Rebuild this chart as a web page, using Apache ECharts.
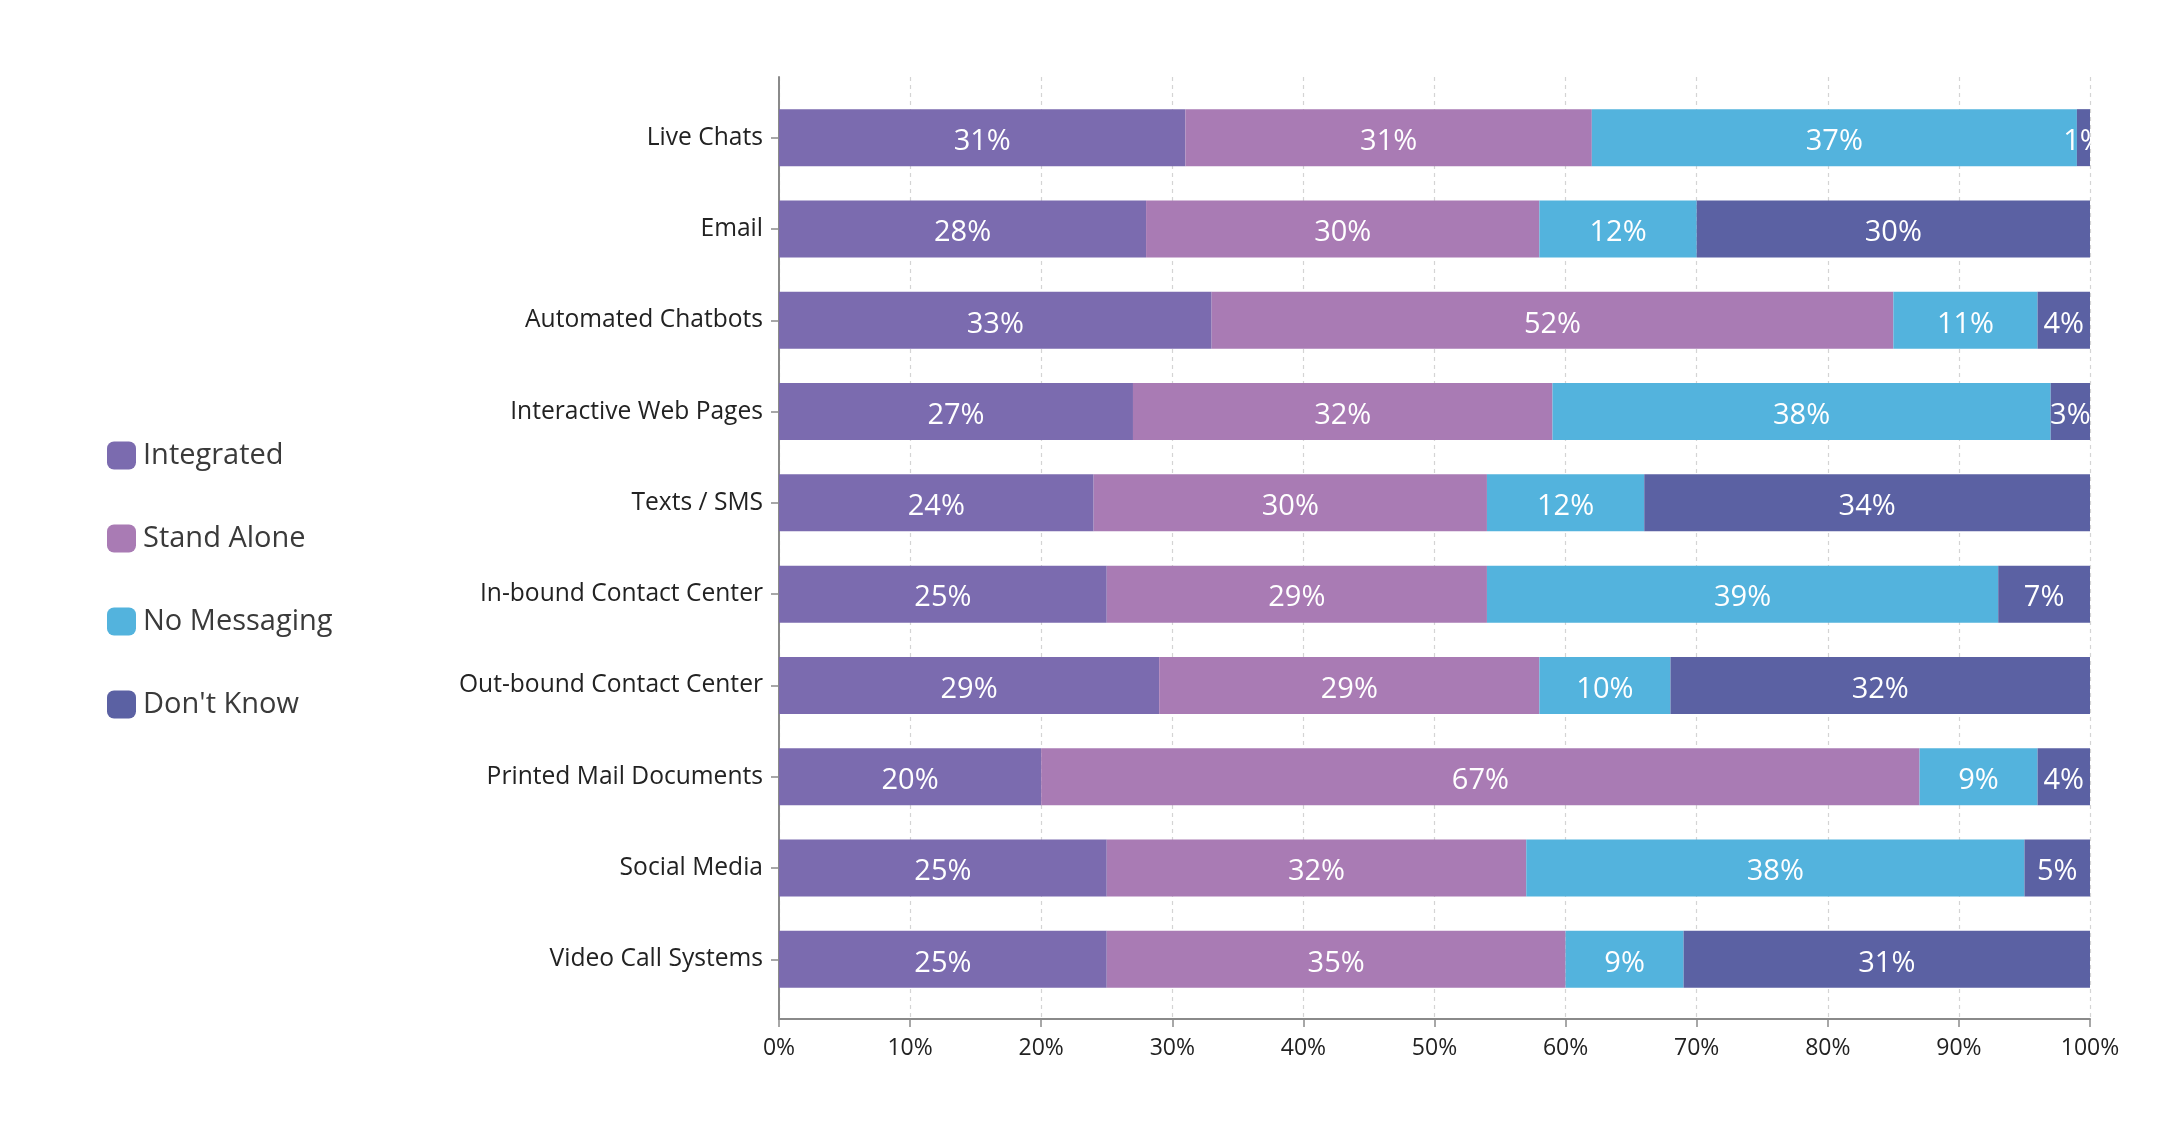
<!DOCTYPE html>
<html>
<head>
<meta charset="utf-8">
<script src="https://cdn.jsdelivr.net/npm/echarts@6/dist/echarts.min.js"></script>
<style>
html,body{margin:0;padding:0;background:#fff;}
#chart{width:2181px;height:1148px;}
</style>
</head>
<body>
<div id="chart"></div>
<script>
const categories = ["Live Chats","Email","Automated Chatbots","Interactive Web Pages","Texts / SMS","In-bound Contact Center","Out-bound Contact Center","Printed Mail Documents","Social Media","Video Call Systems"];
const seriesNames = ["Integrated","Stand Alone","No Messaging","Don't Know"];
const integrated  = [31,28,33,27,24,25,29,20,25,25];
const standAlone  = [31,30,52,32,30,29,29,67,32,35];
const noMessaging = [37,12,11,38,12,39,10, 9,38, 9];
const dontKnow    = [ 1,30, 4, 3,34, 7,32, 4, 5,31];
const xTicks = [0,10,20,30,40,50,60,70,80,90,100];
const colors = ["#7B6BAF","#A97BB4","#53B3DD","#5B61A3"];

const FONT = '"Open Sans", "Noto Sans", sans-serif';
const values = [integrated, standAlone, noMessaging, dontKnow];

const chart = echarts.init(document.getElementById('chart'), null, {renderer:'canvas'});
chart.setOption({
  backgroundColor:'#ffffff',
  animation:false,
  textStyle:{fontFamily:FONT},
  legend:{
    orient:'vertical',
    left:102, top:436,
    itemWidth:29, itemHeight:28, itemGap:54,
    icon:'roundRect',
    data:seriesNames,
    textStyle:{fontFamily:FONT, fontSize:29, color:'#3a3a3a', lineHeight:28, padding:[0,0,0,2]},
    selectedMode:false
  },
  grid:[
    {left:779, right:91, top:77, bottom:129},
    {left:779, right:91, top:92, bottom:143}
  ],
  xAxis:[
    {gridIndex:0, type:'value', min:xTicks[0], max:xTicks[xTicks.length-1], interval:10,
     axisLine:{show:true, lineStyle:{color:'#8a8a8a', width:2}},
     axisTick:{show:true, length:8, lineStyle:{color:'#8a8a8a', width:1.5}},
     axisLabel:{formatter:'{value}%', fontFamily:FONT, fontSize:23, color:'#222', margin:18},
     splitLine:{show:true, lineStyle:{type:[4,4], color:'#d4d4d4', width:1.2}}},
    {gridIndex:1, type:'value', min:0, max:100, show:false}
  ],
  yAxis:[
    {gridIndex:0, type:'value', min:0, max:1,
     axisLine:{show:true, lineStyle:{color:'#8a8a8a', width:2}},
     axisTick:{show:false}, axisLabel:{show:false}, splitLine:{show:false}},
    {gridIndex:1, type:'category', data:categories, inverse:true,
     axisLine:{show:false},
     axisTick:{show:true, alignWithLabel:true, length:8, lineStyle:{color:'#8a8a8a', width:1.5}},
     axisLabel:{fontFamily:FONT, fontSize:24.6, color:'#222', margin:16},
     splitLine:{show:false}}
  ],
  series: seriesNames.map((name,i)=>({
    name:name, type:'bar', stack:'total',
    xAxisIndex:1, yAxisIndex:1,
    barWidth:57,
    itemStyle:{color:colors[i]},
    label:{show:true, position:'inside', offset:[0,4], formatter:'{c}%', color:'#ffffff', fontFamily:FONT, fontSize:29},
    data:values[i]
  }))
});
</script>
</body>
</html>
